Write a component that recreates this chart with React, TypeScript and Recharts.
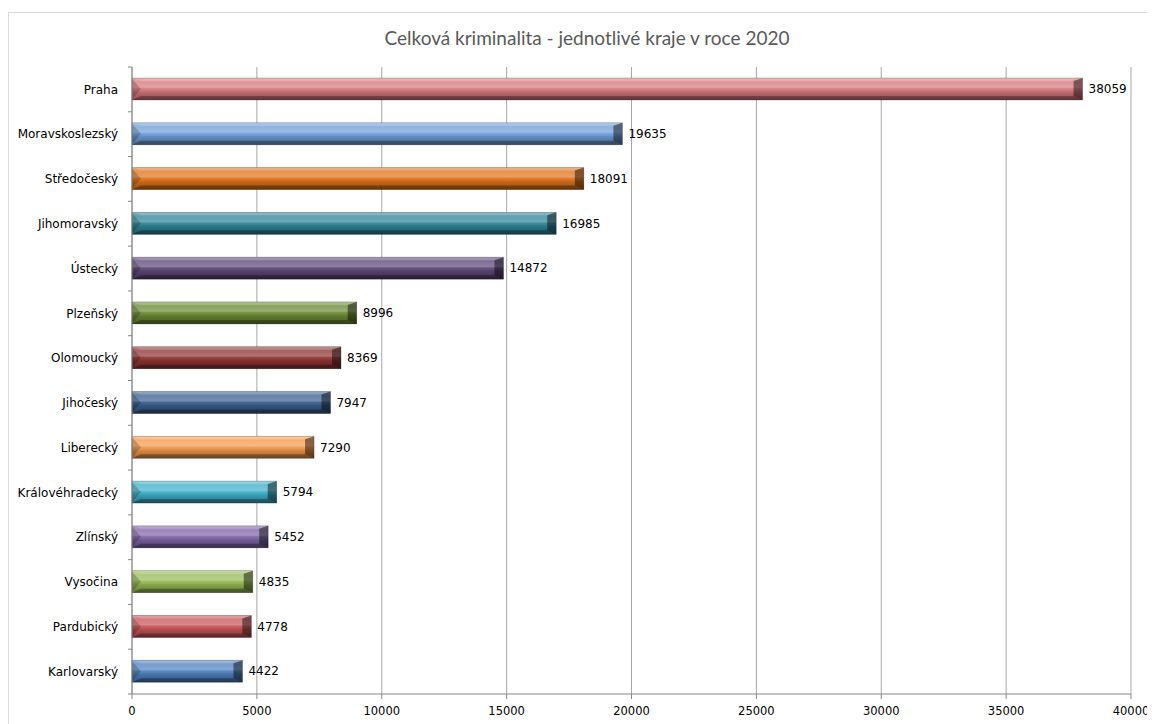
import React from "react";
import { BarChart, Bar, XAxis, YAxis, CartesianGrid, LabelList } from "recharts";

const regions = [
  "Praha", "Moravskoslezský", "Středočeský", "Jihomoravský", "Ústecký", "Plzeňský", "Olomoucký",
  "Jihočeský", "Liberecký", "Královéhradecký", "Zlínský", "Vysočina", "Pardubický", "Karlovarský",
];
const counts = [38059, 19635, 18091, 16985, 14872, 8996, 8369, 7947, 7290, 5794, 5452, 4835, 4778, 4422];
const barColors = [
  "#d7787b", "#6f9ed9", "#e0741c", "#2f8598", "#5d4878", "#6c8a36", "#8f3634",
  "#3a5f8e", "#f39a4e", "#3fb0ca", "#8165a6", "#97bb56", "#c9565a", "#4f82c0",
];
const xTicks = [0, 5000, 10000, 15000, 20000, 25000, 30000, 35000, 40000];
const title = "Celková kriminalita - jednotlivé kraje v roce 2020";

const data = regions.map((name, i) => ({ name, value: counts[i], color: barColors[i] }));

const W = 1147;
const H = 716;
const M_TOP = 59;
const X_AXIS_H = 30;
const BAND = (H - M_TOP - X_AXIS_H) / regions.length;
const FONT = "'DejaVu Sans', Verdana, sans-serif";

const BevelBar = (props: any) => {
  const { x, y, width, height, payload } = props;
  if (!width || width <= 0) return null;
  const c = payload.color;
  const b = Math.min(9, width / 2);
  const midY = y + height / 2;
  return (
    <g>
      <rect x={x} y={y} width={width} height={height} fill={c} />
      <rect x={x} y={y} width={width} height={height} fill="url(#shade)" />
      <polygon points={`${x},${y} ${x + width},${y} ${x + width - b},${y + 3} ${x + b},${y + 3}`} fill="rgba(255,255,255,0.15)" />
      <polygon points={`${x},${y + height} ${x + width},${y + height} ${x + width - b},${y + height - 4} ${x + b},${y + height - 4}`} fill="rgba(0,0,0,0.3)" />
      <polygon points={`${x},${y + 1} ${x + b},${midY} ${x},${y + height - 1}`} fill="rgba(0,0,0,0.2)" />
      <polygon points={`${x + width},${y} ${x + width - b},${y + 3} ${x + width - b},${y + height - 4} ${x + width},${y + height}`} fill="rgba(0,0,0,0.45)" />
      <rect x={x} y={y} width={width} height={height} fill="none" stroke="rgba(0,0,0,0.25)" strokeWidth={0.8} />
    </g>
  );
};

const CatTick = (props: any) => {
  const { x, y, payload, index } = props;
  const last = index === regions.length - 1;
  return (
    <g>
      <text x={x - 14} y={y} dy="0.35em" textAnchor="end" fontSize={12} fontFamily={FONT} fill="#000">
        {payload.value}
      </text>
      <line x1={x - 4} x2={x} y1={y - BAND / 2} y2={y - BAND / 2} stroke="#868686" />
      {last && <line x1={x - 4} x2={x} y1={y + BAND / 2} y2={y + BAND / 2} stroke="#868686" />}
    </g>
  );
};

export default function App() {
  return (
    <div style={{ position: "relative", width: W, height: H, overflow: "hidden", background: "#fff" }}>
      <div
        style={{
          position: "absolute",
          left: 0,
          top: 4,
          width: W + 10,
          height: H + 10,
          borderTop: "1px solid #d9d9d9",
          borderLeft: "1px solid #d9d9d9",
        }}
      />
      <div style={{ position: "absolute", left: 0, top: 0 }}>
        <BarChart
          width={W}
          height={H}
          data={data}
          layout="vertical"
          margin={{ top: M_TOP, right: 24, bottom: 0, left: 0 }}
          style={{ overflow: "visible" }}
        >
          <defs>
            <linearGradient id="shade" x1="0" y1="0" x2="0" y2="1">
              <stop offset="0%" stopColor="#fff" stopOpacity={0.35} />
              <stop offset="20%" stopColor="#fff" stopOpacity={0.22} />
              <stop offset="42%" stopColor="#fff" stopOpacity={0.3} />
              <stop offset="50%" stopColor="#fff" stopOpacity={0.05} />
              <stop offset="62%" stopColor="#000" stopOpacity={0.1} />
              <stop offset="100%" stopColor="#000" stopOpacity={0.35} />
            </linearGradient>
          </defs>
          <text x={587 - 8} y={38 - 8} dy="0.35em" textAnchor="middle" fontSize={19} fontFamily="Lato, 'Open Sans', sans-serif" fill="#595959">
            {title}
          </text>
          <CartesianGrid horizontal={false} vertical={true} stroke="#a6a6a6" strokeWidth={1} />
          <XAxis
            type="number"
            domain={[0, 40000]}
            ticks={xTicks}
            height={X_AXIS_H}
            axisLine={{ stroke: "#868686" }}
            tickLine={{ stroke: "#868686" }}
            tickSize={5}
            tickMargin={8}
            tick={{ fontSize: 11.5, fontFamily: FONT, fill: "#000" }}
            interval={0}
          />
          <YAxis
            type="category"
            dataKey="name"
            width={124}
            axisLine={{ stroke: "#868686" }}
            tickLine={false}
            tickSize={0}
            tickMargin={0}
            tick={<CatTick />}
            interval={0}
          />
          <Bar dataKey="value" barSize={22} shape={<BevelBar />} isAnimationActive={false}>
            <LabelList dataKey="value" position="right" offset={6} fontSize={12} fontFamily={FONT} fill="#000" />
          </Bar>
        </BarChart>
      </div>
    </div>
  );
}
